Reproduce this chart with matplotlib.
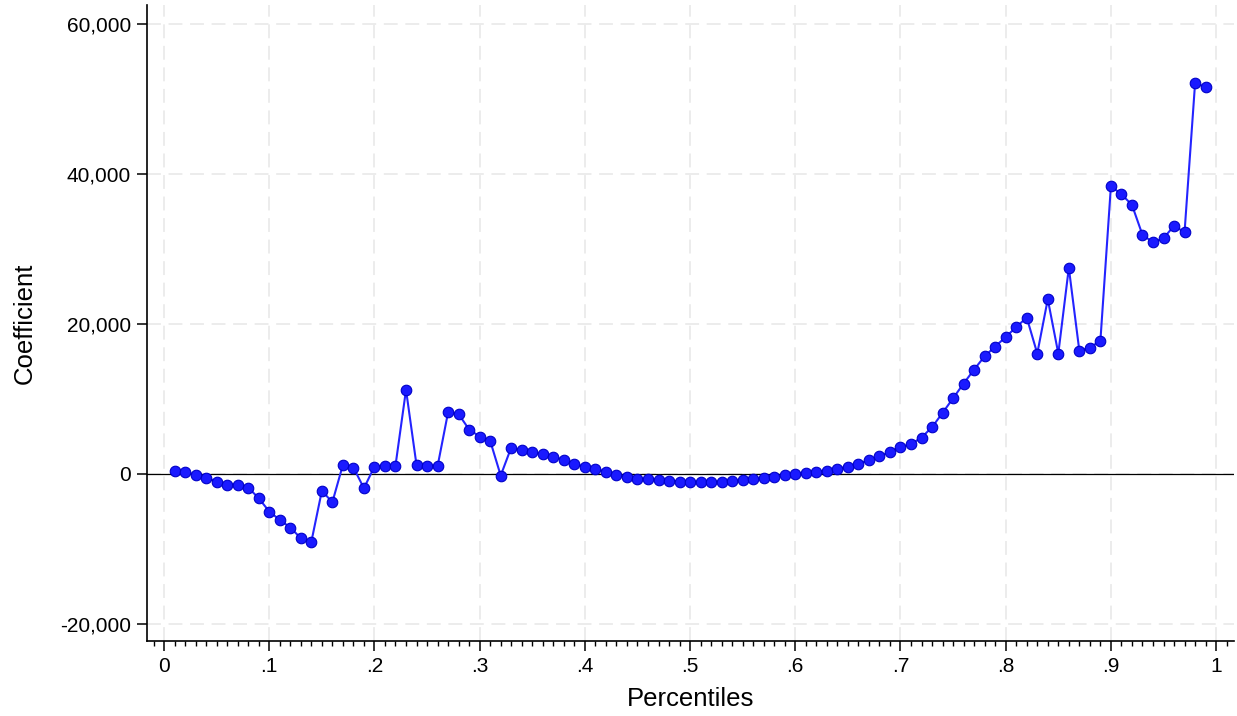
import matplotlib
matplotlib.use("Agg")
import matplotlib.pyplot as plt
from matplotlib.ticker import FuncFormatter, MultipleLocator

# Quantile regression coefficients by percentile
percentiles = [
    0.01, 0.02, 0.03, 0.04, 0.05, 0.06, 0.07, 0.08, 0.09, 0.10,
    0.11, 0.12, 0.13, 0.14, 0.15, 0.16, 0.17, 0.18, 0.19, 0.20,
    0.21, 0.22, 0.23, 0.24, 0.25, 0.26, 0.27, 0.28, 0.29, 0.30,
    0.31, 0.32, 0.33, 0.34, 0.35, 0.36, 0.37, 0.38, 0.39, 0.40,
    0.41, 0.42, 0.43, 0.44, 0.45, 0.46, 0.47, 0.48, 0.49, 0.50,
    0.51, 0.52, 0.53, 0.54, 0.55, 0.56, 0.57, 0.58, 0.59, 0.60,
    0.61, 0.62, 0.63, 0.64, 0.65, 0.66, 0.67, 0.68, 0.69, 0.70,
    0.71, 0.72, 0.73, 0.74, 0.75, 0.76, 0.77, 0.78, 0.79, 0.80,
    0.81, 0.82, 0.83, 0.84, 0.85, 0.86, 0.87, 0.88, 0.89, 0.90,
    0.91, 0.92, 0.93, 0.94, 0.95, 0.96, 0.97, 0.98, 0.99,
]
coefficients = [
    350, 270, -180, -530, -1070, -1510, -1490, -1870, -3290, -5070,
    -6180, -7200, -8620, -9110, -2310, -3820, 1160, 800, -1960, 930,
    1020, 1070, 11160, 1110, 1070, 980, 8180, 7910, 5870, 4930,
    4360, -270, 3470, 3110, 2890, 2580, 2270, 1820, 1290, 930,
    620, 270, -130, -440, -670, -760, -840, -930, -1070, -1110,
    -1160, -1160, -1110, -1020, -890, -760, -620, -420, -220, -40,
    130, 220, 360, 620, 930, 1330, 1780, 2310, 2890, 3560,
    3910, 4800, 6180, 8090, 10040, 12000, 13870, 15640, 16930, 18200,
    19530, 20800, 16000, 23240, 16000, 27420, 16360, 16800, 17690, 38310,
    37240, 35820, 31820, 30840, 31380, 33020, 32180, 52040, 51560,
]

x_ticks = [0, 0.1, 0.2, 0.3, 0.4, 0.5, 0.6, 0.7, 0.8, 0.9, 1.0]
x_tick_labels = ["0", ".1", ".2", ".3", ".4", ".5", ".6", ".7", ".8", ".9", "1"]
y_ticks = [-20000, 0, 20000, 40000, 60000]

plt.rcParams["font.family"] = ["Liberation Sans", "DejaVu Sans"]
plt.rcParams["lines.scale_dashes"] = False

fig = plt.figure(figsize=(12.37, 7.16), dpi=100)
ax = fig.add_axes([147 / 1237, 75 / 716, 1087 / 1237, 636 / 716])

ax.set_xlim(-0.0162, 1.017)
ax.set_ylim(-22330, 62470)

grid_style = dict(color="#ebebeb", linewidth=1.3, linestyle=(0, (10, 5.5)), zorder=0)
for xv in x_ticks:
    ax.axvline(xv, **grid_style)
for yv in y_ticks:
    ax.axhline(yv, **grid_style)

ax.axhline(0, color="black", linewidth=0.9, zorder=1)

ax.plot(percentiles, coefficients, color="#2424ff", linewidth=1.5,
        marker="o", markersize=7.6, markerfacecolor="#1a1aff",
        markeredgecolor="#0000c8", markeredgewidth=0.8, zorder=3)

ax.set_xticks(x_ticks)
ax.set_xticklabels(x_tick_labels)
ax.xaxis.set_minor_locator(MultipleLocator(0.01))
ax.set_yticks(y_ticks)
ax.yaxis.set_major_formatter(FuncFormatter(lambda v, _: f"{v:,.0f}"))

for side in ("top", "right"):
    ax.spines[side].set_visible(False)
for side in ("left", "bottom"):
    ax.spines[side].set_linewidth(1.2)

ax.tick_params(axis="both", which="major", length=7.5, width=1.1,
               labelsize=15, pad=4, color="black")
ax.tick_params(axis="x", which="minor", length=3.6, width=1.0)

ax.set_xlabel("Percentiles", fontsize=18.5, labelpad=8)
ax.set_ylabel("Coefficient", fontsize=18.5, labelpad=17)

fig.savefig("out.png", dpi=100)
